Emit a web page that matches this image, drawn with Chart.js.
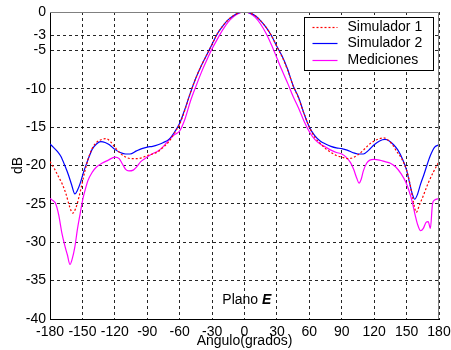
<!DOCTYPE html>
<html>
<head>
<meta charset="utf-8">
<script src="https://cdn.jsdelivr.net/npm/chart.js@4.4.0/dist/chart.umd.min.js"></script>
<style>
  html, body { margin: 0; padding: 0; background: #fff; }
  #wrap { position: relative; width: 451px; height: 350px; }
</style>
</head>
<body>
<div id="wrap"><canvas id="chart"></canvas></div>
<script>
// E-plane radiation pattern, angle in degrees vs level in dB
const seriesNames = ['Simulador 1', 'Simulador 2', 'Mediciones'];

const sim1Angle = [-180, -176, -172, -169, -165, -162, -159, -156, -153, -151, -148, -145, -141, -137, -132, -128, -124, -120, -115, -110, -105, -100, -95, -90, -85, -80, -75, -70, -65, -60, -55, -50, -45, -40, -35, -30, -25, -20, -15, -10, -5, 0, 5, 10, 15, 20, 25, 30, 35, 40, 45, 50, 55, 60, 65, 70, 75, 80, 85, 90, 95, 100, 105, 110, 115, 120, 125, 129, 133, 137, 141, 145, 150, 153, 156, 159, 162, 165, 170, 175, 180];
const sim1Db = [-19.5, -20.4, -21.5, -22.3, -23.8, -25.3, -26.2, -25.5, -24.0, -22.8, -20.9, -19.3, -17.8, -17.0, -16.6, -16.5, -16.9, -17.6, -18.4, -18.9, -19.1, -19.1, -19.0, -18.7, -18.5, -18.2, -17.6, -16.9, -15.8, -14.6, -12.7, -10.5, -8.6, -7.0, -5.6, -4.2, -2.8, -1.8, -1.0, -0.45, -0.1, 0, -0.12, -0.5, -1.15, -2.0, -3.1, -4.5, -5.9, -7.6, -9.6, -11.2, -13.2, -15.0, -16.3, -17.1, -17.8, -18.3, -18.7, -18.9, -19.1, -19.0, -18.6, -18.0, -17.3, -16.8, -16.5, -16.4, -16.7, -17.3, -18.2, -19.0, -20.6, -22.3, -24.5, -26.1, -25.1, -24.1, -22.3, -20.8, -19.5];

const sim2Angle = [-180, -177, -173, -170, -166, -163, -160, -157, -154.5, -152, -149, -145, -141, -137, -133, -129, -125, -120, -115, -110, -106, -100, -95, -90, -85, -80, -75, -70, -65, -60, -55, -50, -45, -40, -35, -30, -25, -20, -15, -10, -5, 0, 5, 10, 15, 20, 25, 30, 35, 40, 45, 50, 55, 60, 65, 70, 75, 80, 85, 90, 95, 100, 105, 110, 115, 120, 125, 130, 134, 138, 142, 146, 150, 153, 155.5, 157.5, 160, 163, 166, 169, 172, 176, 180];
const sim2Db = [-17.2, -17.6, -18.2, -18.8, -20.1, -21.2, -22.5, -23.7, -23.2, -22.3, -20.9, -19.3, -17.9, -17.2, -16.9, -17.0, -17.3, -17.9, -18.3, -18.5, -18.5, -18.1, -17.8, -17.6, -17.5, -17.3, -17.0, -16.6, -15.7, -14.5, -12.6, -10.5, -8.6, -7.0, -5.6, -4.2, -2.8, -1.8, -1.0, -0.45, -0.1, 0, -0.12, -0.5, -1.15, -2.0, -3.1, -4.5, -5.8, -7.5, -9.6, -11.1, -13.2, -15.0, -16.1, -16.8, -17.2, -17.5, -17.7, -17.8, -18.0, -18.3, -18.5, -18.5, -18.0, -17.3, -16.8, -16.6, -16.8, -17.3, -18.0, -19.1, -20.6, -22.4, -23.8, -24.4, -23.8, -22.4, -21.2, -19.9, -18.7, -17.6, -17.3];

const medAngle = [-180, -177, -175, -172, -169, -166, -164, -161.5, -159.5, -157, -154.5, -152, -149.5, -147.5, -145, -141, -137, -132, -126, -120, -116, -113, -110, -107, -103, -100, -96, -92, -87, -80, -75, -70, -65, -60, -55, -50, -45, -40, -35, -30, -25, -20, -15, -10, -5, 0, 5, 10, 15, 20, 25, 30, 35, 40, 45, 50, 55, 60, 65, 70, 75, 80, 85, 90, 94, 98, 101, 104, 106, 108, 110, 113, 116, 120, 125, 130, 135, 140, 145, 149, 152, 155, 158, 160, 163, 165.5, 168, 170, 172, 174, 176, 180];
const medDb = [-24.3, -24.6, -24.9, -26.4, -28.8, -30.6, -31.6, -32.9, -32.2, -30.6, -28.2, -26.2, -24.3, -23.2, -22.0, -20.9, -20.2, -19.7, -19.3, -18.9, -19.1, -19.8, -20.5, -20.7, -20.6, -20.2, -19.5, -19.1, -18.6, -18.1, -17.5, -16.7, -16.0, -15.5, -13.9, -11.6, -9.7, -7.9, -6.3, -4.8, -3.5, -2.3, -1.3, -0.6, -0.15, 0, -0.2, -0.7, -1.6, -2.8, -4.3, -6.0, -7.7, -9.3, -11.0, -12.5, -14.2, -15.6, -16.6, -17.2, -17.6, -18.0, -18.3, -18.5, -18.9, -19.6, -20.5, -21.7, -22.3, -21.8, -20.7, -19.7, -19.3, -19.2, -19.3, -19.5, -19.7, -20.2, -21.1, -22.1, -23.2, -24.6, -26.5, -27.6, -28.5, -28.2, -27.4, -27.3, -28.2, -25.0, -24.5, -24.3];

const yTicks = [0, -3, -5, -10, -15, -20, -25, -30, -35, -40];

const toPoints = (xs, ys) => xs.map((x, i) => ({ x: x, y: ys[i] }));

Chart.defaults.font.family = '"Liberation Sans", Arial, sans-serif';
Chart.defaults.font.size = 14;
Chart.defaults.color = '#000';

// frame on top/right, legend box and the "Plano E" label
const decorPlugin = {
    id: 'decor',
    afterDatasetsDraw(chart) {
        const { ctx, chartArea: a, scales } = chart;
        ctx.save();
        ctx.strokeStyle = '#808080';
        ctx.lineWidth = 1;
        ctx.setLineDash([]);
        ctx.beginPath();
        ctx.moveTo(a.left, a.top + 0.5);
        ctx.lineTo(a.right - 0.5, a.top + 0.5);
        ctx.lineTo(a.right - 0.5, a.bottom);
        ctx.stroke();

        // legend
        const bw = 129, bh = 53;
        const bx = Math.round(a.right - 6 - bw) + 0.5;
        const by = Math.round(a.top + 5) + 0.5;
        ctx.fillStyle = '#fff';
        ctx.fillRect(bx, by, bw, bh);
        ctx.strokeStyle = '#000';
        ctx.strokeRect(bx, by, bw, bh);
        ctx.font = '14px "Liberation Sans", Arial, sans-serif';
        ctx.textBaseline = 'middle';
        ctx.textAlign = 'left';
        chart.data.datasets.forEach((ds, i) => {
            const yy = Math.round(by + 9 + i * 16.7) + 0.5;
            ctx.strokeStyle = ds.borderColor;
            ctx.lineWidth = ds.borderWidth;
            ctx.setLineDash(ds.borderDash || []);
            ctx.beginPath();
            ctx.moveTo(bx + 8, yy);
            ctx.lineTo(bx + 33, yy);
            ctx.stroke();
            ctx.fillStyle = '#000';
            ctx.fillText(ds.label, bx + 43, yy);
        });

        // plane label
        ctx.setLineDash([]);
        const px = scales.x.getPixelForValue(-20.5);
        const py = scales.y.getPixelForValue(-37.6);
        ctx.font = '14px "Liberation Sans", Arial, sans-serif';
        ctx.fillText('Plano ', px, py);
        const w = ctx.measureText('Plano ').width;
        ctx.font = 'italic bold 14px "Liberation Sans", Arial, sans-serif';
        ctx.fillText('E', px + w, py);
        ctx.restore();
    }
};

new Chart(document.getElementById('chart'), {
    type: 'line',
    data: {
        datasets: [
            {
                label: seriesNames[0],
                data: toPoints(sim1Angle, sim1Db),
                borderColor: '#ff0000',
                borderWidth: 1.2,
                borderDash: [2, 2]
            },
            {
                label: seriesNames[1],
                data: toPoints(sim2Angle, sim2Db),
                borderColor: '#0000ff',
                borderWidth: 1.2
            },
            {
                label: seriesNames[2],
                data: toPoints(medAngle, medDb),
                borderColor: '#ff00ff',
                borderWidth: 1.2
            }
        ]
    },
    options: {
        responsive: true,
        maintainAspectRatio: false,
        devicePixelRatio: 1,
        animation: false,
        layout: { padding: { top: 12, right: 12, left: 0, bottom: 0 } },
        elements: {
            point: { radius: 0 },
            line: { cubicInterpolationMode: 'monotone', fill: false }
        },
        plugins: {
            legend: { display: false },
            tooltip: { enabled: false }
        },
        scales: {
            x: {
                type: 'linear',
                min: -180,
                max: 180,
                ticks: { stepSize: 30, autoSkip: false, maxRotation: 0, padding: 5 },
                grid: { color: 'rgba(0,0,0,0.85)', drawTicks: false },
                border: { color: '#000', dash: [3, 3] },
                title: { display: true, text: 'Angulo(grados)', padding: { top: 0, bottom: 0 } },
                afterFit: (scale) => {
                    scale.height = 31;
                    scale.paddingLeft = 0;
                    scale.paddingRight = 0;
                }
            },
            y: {
                min: -40,
                max: 0,
                afterBuildTicks: (scale) => {
                    scale.ticks = yTicks.map(v => ({ value: v }));
                },
                ticks: { autoSkip: false, padding: 4 },
                grid: { color: 'rgba(0,0,0,0.85)', drawTicks: false },
                border: { color: '#000', dash: [3, 3] },
                title: { display: true, text: 'dB', padding: { top: 10, bottom: 0 } },
                afterFit: (scale) => {
                    scale.width = 50;
                    scale.paddingTop = 0;
                    scale.paddingBottom = 0;
                }
            }
        }
    },
    plugins: [decorPlugin]
});
</script>
</body>
</html>
